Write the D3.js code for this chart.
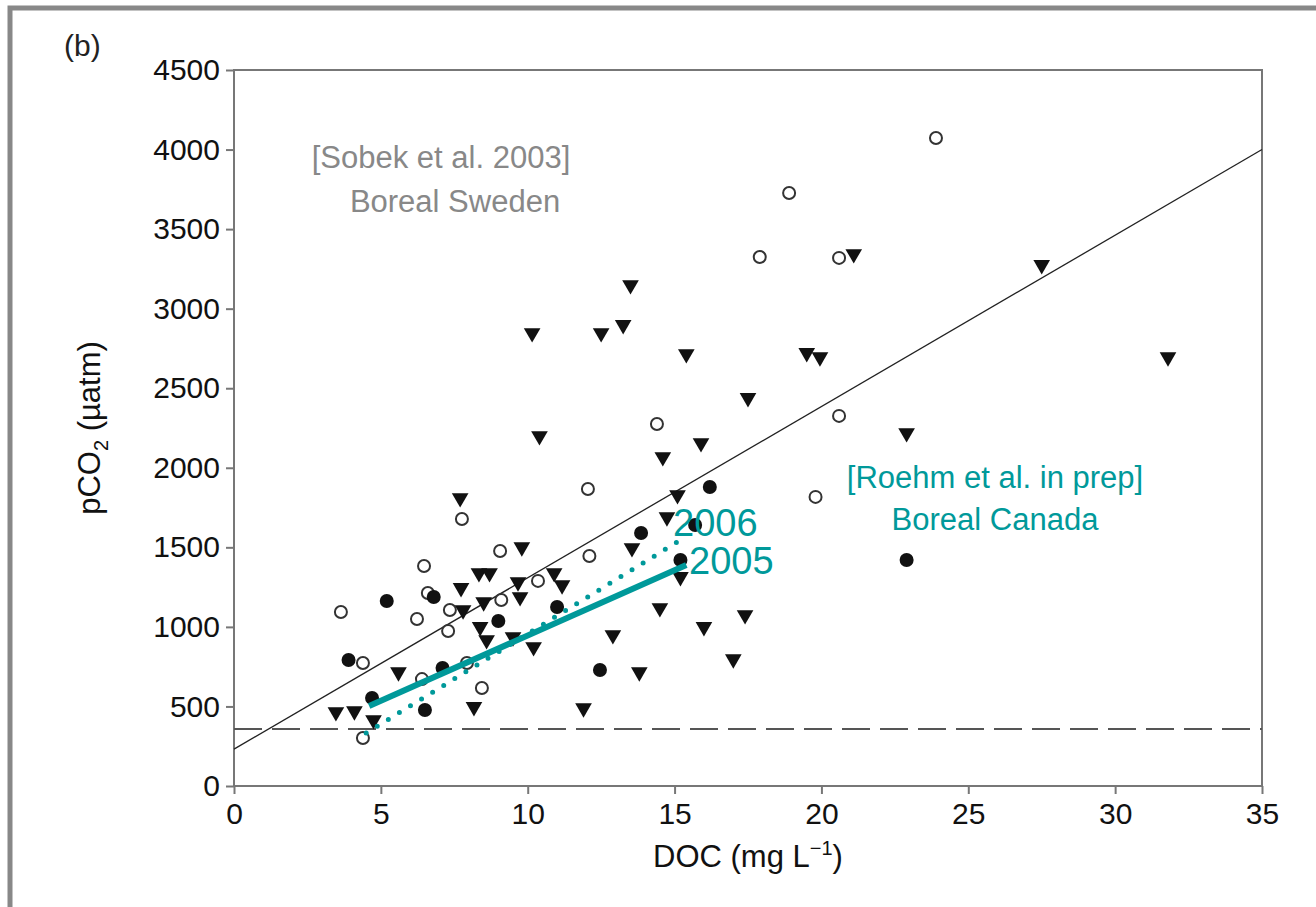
<!DOCTYPE html>
<html><head><meta charset="utf-8">
<script src="https://cdn.jsdelivr.net/npm/d3@7"></script>
<style>body{margin:0;background:#fff}svg{font-family:"Liberation Sans",Arial,sans-serif}</style>
</head><body><div id="chart"></div>
<script>
const xTicks = [0, 5, 10, 15, 20, 25, 30, 35];
const yTicks = [0, 500, 1000, 1500, 2000, 2500, 3000, 3500, 4000, 4500];
// [DOC, pCO2]
const openCircles = [[3.64,1094],[18.9,3727],[17.9,3325],[20.6,3319],[23.9,4073],[20.6,2326],[19.8,1817],
  [14.4,2275],[12.05,1867],[7.76,1678],[9.06,1477],[6.47,1383],[12.1,1446],[10.35,1289],[9.1,1169],
  [6.23,1050],[7.29,974],[7.35,1106],[6.6,1213],[4.39,773],[6.4,672],[7.93,773],[8.44,616],[4.39,302]];
const filledCircles = [[5.2,1163],[3.9,792],[6.8,1188],[4.7,553],[6.5,478],[7.1,742],[9.0,1037],[11.0,1125],
  [13.86,1590],[16.2,1879],[15.2,1420],[12.46,729],[22.9,1420],[15.7,1640]];
const triangles = [[3.47,465],[4.1,471],[4.75,415],[5.6,716],[7.7,1810],[7.73,1245],[8.34,1339],[8.7,1339],
  [7.8,1106],[8.5,1156],[9.67,1282],[9.74,1188],[9.8,1502],[8.38,1000],[8.6,918],[9.5,936],[10.2,874],
  [10.9,1339],[11.17,1263],[14.6,2068],[15.9,2156],[15.1,1829],[14.74,1690],[13.55,1496],[14.5,1119],
  [16.0,1000],[12.9,949],[13.8,716],[11.9,490],[8.17,497],[15.2,1314],[10.15,2847],[10.4,2200],[12.5,2847],
  [13.25,2898],[13.5,3149],[15.4,2715],[17.5,2439],[17.4,1075],[17.0,798],[19.5,2722],[19.95,2696],
  [21.1,3344],[22.9,2219],[27.5,3275],[31.8,2696]];
const fitSweden = [[0,232],[35,4000]];
const atmosphere = [[0,358],[35,358]];
const fit2005 = [[4.6,503],[15.4,1389]];
const fit2006 = [[4.5,333],[15.2,1546]];

const W = 1316, H = 907;
const m = {left: 234, top: 70, right: 1262, bottom: 786};
const teal = '#00999a';
const svg = d3.select('#chart').append('svg').attr('width', W).attr('height', H);
svg.append('rect').attr('x', 10).attr('y', 8).attr('width', W + 10).attr('height', H + 10)
  .attr('fill', 'none').attr('stroke', '#888').attr('stroke-width', 5);

const x = d3.scaleLinear().domain([0, 35]).range([m.left, m.right]);
const y = d3.scaleLinear().domain([0, 4500]).range([m.bottom, m.top]);

svg.append('rect').attr('x', m.left).attr('y', m.top).attr('width', m.right - m.left)
  .attr('height', m.bottom - m.top).attr('fill', 'none').attr('stroke', '#777').attr('stroke-width', 2);

const xa = svg.append('g').attr('transform', `translate(0,${m.bottom})`)
  .call(d3.axisBottom(x).tickValues(xTicks).tickFormat(d3.format('d')).tickSize(8).tickSizeOuter(0));
const ya = svg.append('g').attr('transform', `translate(${m.left},0)`)
  .call(d3.axisLeft(y).tickValues(yTicks).tickFormat(d3.format('d')).tickSize(8).tickSizeOuter(0));
[xa, ya].forEach(a => {
  a.select('.domain').remove();
  a.selectAll('line').attr('stroke', '#777').attr('stroke-width', 2);
  a.selectAll('text').attr('font-size', 30).attr('fill', '#111').attr('font-family', 'Liberation Sans, Arial');
});
xa.selectAll('text').attr('dy', '0.9em');
ya.selectAll('text').attr('dx', '-0.1em');

const line = d3.line().x(d => x(d[0])).y(d => y(d[1]));
svg.append('path').datum(fitSweden).attr('d', line).attr('stroke', '#222').attr('stroke-width', 1.3).attr('fill', 'none');
svg.append('path').datum(atmosphere).attr('d', line).attr('stroke', '#555').attr('stroke-width', 2)
  .attr('stroke-dasharray', '28,10').attr('fill', 'none');

svg.append('g').selectAll('circle').data(openCircles).join('circle')
  .attr('cx', d => x(d[0])).attr('cy', d => y(d[1])).attr('r', 6)
  .attr('fill', 'white').attr('stroke', '#333').attr('stroke-width', 2);
svg.append('g').selectAll('circle').data(filledCircles).join('circle')
  .attr('cx', d => x(d[0])).attr('cy', d => y(d[1])).attr('r', 7).attr('fill', '#111');
const tri = d3.symbol().type(d3.symbolTriangle).size(120);
svg.append('g').selectAll('path').data(triangles).join('path')
  .attr('d', tri).attr('transform', d => `translate(${x(d[0])},${y(d[1])}) rotate(180)`).attr('fill', '#111');

svg.append('path').datum(fit2005).attr('d', line).attr('stroke', teal).attr('stroke-width', 6).attr('fill', 'none');
svg.append('path').datum(fit2006).attr('d', line).attr('stroke', teal).attr('stroke-width', 5)
  .attr('stroke-linecap', 'round').attr('stroke-dasharray', '0,13').attr('fill', 'none');

const txt = (t, px, py, size, col, anchor = 'middle') => svg.append('text').attr('x', px).attr('y', py)
  .attr('font-size', size).attr('fill', col).attr('text-anchor', anchor).text(t);
txt('(b)', 64, 56, 30, '#222', 'start');
txt('[Sobek et al. 2003]', 441, 168, 31, '#888');
txt('Boreal Sweden', 455, 212, 31, '#888');
txt('[Roehm et al. in prep]', 995, 488, 31, teal);
txt('Boreal Canada', 995, 530, 31, teal);
txt('2006', 673, 536, 38, teal, 'start');
txt('2005', 689, 574, 38, teal, 'start');

const xl = svg.append('text').attr('x', 748).attr('y', 867).attr('font-size', 31).attr('text-anchor', 'middle').attr('fill', '#111');
xl.append('tspan').text('DOC (mg L');
xl.append('tspan').attr('dy', -12).attr('font-size', 20).text('−1');
xl.append('tspan').attr('dy', 12).text(')');
const yl = svg.append('text').attr('transform', 'translate(100,428) rotate(-90)').attr('font-size', 31)
  .attr('text-anchor', 'middle').attr('fill', '#111');
yl.append('tspan').text('pCO');
yl.append('tspan').attr('dy', 8).attr('font-size', 20).text('2');
yl.append('tspan').attr('dy', -8).text(' (µatm)');
</script></body></html>
